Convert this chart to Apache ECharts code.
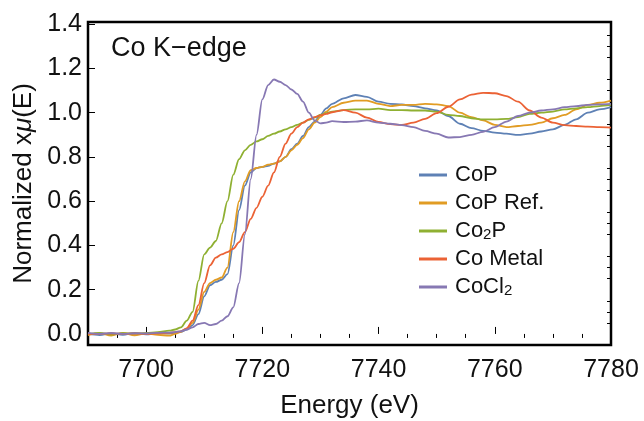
<!DOCTYPE html>
<html>
<head>
<meta charset="utf-8">
<script src="https://cdn.jsdelivr.net/npm/echarts@6/dist/echarts.min.js"></script>
<style>
    html, body { margin: 0; padding: 0; background: #fff; }
    #chart { width: 644px; height: 421px; }
</style>
</head>
<body>
<div id="chart"></div>
<script>
// energy grid (eV), shared by every spectrum
const energy = [
    7690, 7692, 7694, 7696, 7698, 7700, 7702, 7704,
    7705, 7706, 7707, 7708, 7709, 7710, 7711, 7712, 7713, 7714, 7715, 7716, 7717, 7718, 7719,
    7720, 7721, 7722, 7723, 7724, 7725, 7726, 7727, 7728, 7729, 7730, 7731, 7732,
    7734, 7736, 7738, 7740, 7742, 7744, 7746, 7748, 7750, 7752, 7754, 7756, 7758, 7760,
    7762, 7764, 7766, 7768, 7770, 7772, 7774, 7776, 7778, 7780
];

const coP = [
    0.0, -0.005, 0.003, -0.004, 0.004, -0.002, 0.003, 0.002,
    0.005, 0.01, 0.02, 0.04, 0.09, 0.17, 0.22, 0.235, 0.245, 0.27, 0.40, 0.56, 0.67, 0.73, 0.75,
    0.755, 0.76, 0.77, 0.78, 0.80, 0.835, 0.86, 0.895, 0.935, 0.96, 0.99, 1.02, 1.04,
    1.065, 1.08, 1.072, 1.05, 1.04, 1.037, 1.03, 1.02, 1.01, 0.985, 0.95, 0.93, 0.918, 0.91,
    0.905, 0.9, 0.905, 0.915, 0.925, 0.945, 0.97, 1.0, 1.015, 1.025
];

const coPRef = [
    -0.005, 0.004, -0.008, 0.005, -0.006, 0.003, -0.004, -0.008,
    0.0, 0.01, 0.025, 0.05, 0.11, 0.19, 0.23, 0.245, 0.255, 0.30, 0.46, 0.60, 0.69, 0.74, 0.75,
    0.755, 0.765, 0.77, 0.78, 0.80, 0.83, 0.855, 0.885, 0.925, 0.955, 0.98, 1.005, 1.025,
    1.045, 1.055, 1.055, 1.04, 1.03, 1.035, 1.035, 1.04, 1.038, 1.03, 1.0, 0.98, 0.965, 0.945,
    0.935, 0.94, 0.945, 0.955, 0.975, 0.99, 1.015, 1.035, 1.045, 1.055
];

const co2P = [
    0.0, 0.005, -0.003, 0.004, 0.002, 0.004, 0.008, 0.015,
    0.02, 0.03, 0.06, 0.10, 0.24, 0.36, 0.39, 0.42, 0.50, 0.60, 0.72, 0.79, 0.83, 0.855, 0.87,
    0.88, 0.895, 0.905, 0.915, 0.925, 0.935, 0.945, 0.955, 0.968, 0.978, 0.99, 0.998, 1.005,
    1.012, 1.015, 1.015, 1.018, 1.012, 1.012, 1.01, 1.01, 1.005, 0.99, 0.985, 0.975, 0.97, 0.97,
    0.972, 0.98, 0.995, 1.0, 1.005, 1.015, 1.02, 1.025, 1.03, 1.035
];

const coMetal = [
    0.0, 0.0, 0.002, 0.0, 0.002, 0.0, 0.003, 0.005,
    0.008, 0.012, 0.025, 0.06, 0.13, 0.23, 0.31, 0.345, 0.36, 0.37, 0.385, 0.415, 0.46, 0.52, 0.57,
    0.62, 0.67, 0.73, 0.80, 0.86, 0.905, 0.935, 0.955, 0.97, 0.98, 0.988, 0.995, 1.002,
    1.012, 1.0, 0.978, 0.958, 0.948, 0.945, 0.955, 0.972, 0.998, 1.027, 1.06, 1.082, 1.09, 1.088,
    1.075, 1.05, 1.01, 0.978, 0.955, 0.944, 0.94, 0.937, 0.935, 0.933
];

const coCl2 = [
    0.005, 0.0, 0.004, 0.0, 0.003, 0.002, 0.005, 0.006,
    0.008, 0.012, 0.02, 0.03, 0.045, 0.05, 0.04, 0.045, 0.06, 0.08, 0.12, 0.23, 0.45, 0.70, 0.90,
    1.06, 1.125, 1.15, 1.14, 1.125, 1.105, 1.085, 1.05, 1.0, 0.965, 0.952, 0.955, 0.962,
    0.958, 0.96, 0.965, 0.955, 0.95, 0.944, 0.935, 0.918, 0.905, 0.888, 0.89, 0.9, 0.914, 0.935,
    0.96, 0.985, 1.0, 1.01, 1.015, 1.025, 1.03, 1.035, 1.038, 1.04
];

const seriesNames = ['CoP', 'CoP Ref.', 'Co2P', 'Co Metal', 'CoCl2'];
const legendLabels = ['CoP', 'CoP Ref.', 'Co{sub|2}P', 'Co Metal', 'CoCl{sub|2}'];
const colors = ['#5E81B5', '#E19C24', '#8FB032', '#EB6235', '#8778B3'];
const seriesValues = [coP, coPRef, co2P, coMetal, coCl2];

const xMajor = [7700, 7720, 7740, 7760, 7780];
const xMinor = [7695, 7705, 7710, 7715, 7725, 7730, 7735, 7745, 7750, 7755, 7765, 7770, 7775];
const yMajor = [0, 0.2, 0.4, 0.6, 0.8, 1.0, 1.2, 1.4];
const yMinor = [-0.05, 0.05, 0.1, 0.15, 0.25, 0.3, 0.35, 0.45, 0.5, 0.55, 0.65, 0.7, 0.75,
    0.85, 0.9, 0.95, 1.05, 1.1, 1.15, 1.25, 1.3, 1.35];

const FONT = 'Liberation Sans, Arial, sans-serif';

const chart = echarts.init(document.getElementById('chart'), null, { renderer: 'canvas' });

const series = seriesValues.map((vals, i) => ({
    name: seriesNames[i],
    type: 'line',
    xAxisIndex: 0,
    yAxisIndex: 0,
    showSymbol: false,
    smooth: 0.3,
    smoothMonotone: 'x',
    data: vals.map((v, j) => [energy[j], v]),
    lineStyle: { width: 1.8, color: colors[i] },
    itemStyle: { color: colors[i] },
}));

const xRange = { min: 7690, max: 7780 };
const yRange = { min: -0.05, max: 1.41 };

const option = {
    animation: false,
    grid: {
        left: 88,
        right: 33,
        top: 22,
        bottom: 76,
        outerBoundsMode: 'none',
        containLabel: false,
        show: true,
        borderColor: '#000',
        borderWidth: 2.5,
        backgroundColor: 'transparent',
    },
    title: {
        text: 'Co K\u2212edge',
        left: 106,
        top: 30,
        textStyle: { fontFamily: FONT, fontSize: 27, fontWeight: 'normal', color: '#111' },
    },
    legend: {
        orient: 'vertical',
        left: 414,
        top: 159,
        itemWidth: 28,
        itemHeight: 3,
        itemGap: 6,
        icon: 'rect',
        data: seriesNames,
        formatter: (name) => legendLabels[seriesNames.indexOf(name)],
        textStyle: {
            fontFamily: FONT,
            fontSize: 22,
            color: '#111',
            lineHeight: 22,
            padding: [0, 0, 0, 3],
            rich: {
                sub: { fontFamily: FONT, fontSize: 15, lineHeight: 22, verticalAlign: 'bottom', color: '#111' },
            },
        },
    },
    xAxis: [
        {
            type: 'value',
            ...xRange,
            name: 'Energy (eV)',
            nameLocation: 'middle',
            nameGap: 48,
            nameTextStyle: { fontFamily: FONT, fontSize: 26, color: '#111' },
            axisLine: { show: false },
            splitLine: { show: false },
            axisTick: { inside: true, length: 7, customValues: xMajor, lineStyle: { color: '#000', width: 1 } },
            axisLabel: {
                customValues: xMajor,
                margin: 13,
                fontFamily: FONT,
                fontSize: 25,
                color: '#111',
                formatter: (v) => String(v),
            },
        },
        {
            type: 'value',
            ...xRange,
            axisLine: { show: false },
            splitLine: { show: false },
            axisTick: { inside: true, length: 4, customValues: xMinor, lineStyle: { color: '#000', width: 1 } },
            axisLabel: { show: false },
        },
    ],
    yAxis: [
        {
            type: 'value',
            ...yRange,
            name: 'Normalized x{i|\u03bc}(E)',
            nameLocation: 'middle',
            nameGap: 51,
            nameTextStyle: {
                fontFamily: FONT, fontSize: 26, color: '#111',
                rich: { i: { fontFamily: FONT, fontSize: 26, fontStyle: 'italic', color: '#111' } },
            },
            axisLine: { show: false },
            splitLine: { show: false },
            axisTick: { inside: true, length: 7, customValues: yMajor, lineStyle: { color: '#000', width: 1 } },
            axisLabel: {
                customValues: yMajor,
                margin: 6,
                fontFamily: FONT,
                fontSize: 25,
                color: '#111',
                formatter: (v) => v.toFixed(1),
            },
        },
        {
            type: 'value',
            ...yRange,
            axisLine: { show: false },
            splitLine: { show: false },
            axisTick: { inside: true, length: 4, customValues: yMinor, lineStyle: { color: '#000', width: 1 } },
            axisLabel: { show: false },
        },
    ],
    series,
};

chart.setOption(option);
</script>
</body>
</html>
